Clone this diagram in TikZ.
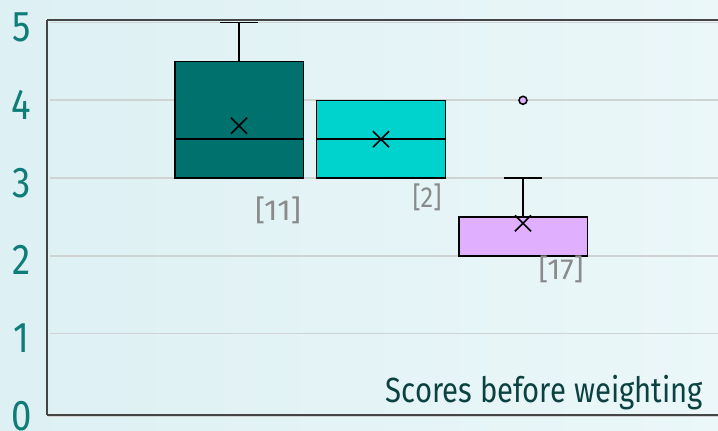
\documentclass[tikz,border=0pt]{standalone}
\usepackage{fontspec}
\setmainfont{Fira Sans}
\usepackage{graphicx}
\definecolor{bgl}{HTML}{DDF0F3}
\definecolor{bgr}{HTML}{EBF7F9}
\definecolor{axisnum}{HTML}{0E7C77}
\definecolor{titlec}{HTML}{0B4241}
\definecolor{boxa}{HTML}{00716D}
\definecolor{boxb}{HTML}{00D3CD}
\definecolor{boxc}{HTML}{E0B0FF}
\definecolor{gridc}{HTML}{CFD3D4}
\definecolor{framec}{HTML}{454545}
\definecolor{cntc}{HTML}{8A8A8A}
\tikzset{
  gridline/.style={draw=gridc, line width=1.6pt},
  frameline/.style={draw=framec, line width=1.5pt},
  boxst/.style={draw=black, line width=1.5pt},
  whisk/.style={draw=black, line width=1.5pt},
  ylab/.style={text=axisnum, inner sep=0pt, anchor=base, font=\fontsize{43}{43}\selectfont},
  cntlab/.style={text=cntc, inner sep=0pt, anchor=base, font=\fontsize{29}{29}\selectfont},
  meanx/.pic={\draw[line width=1.5pt] (-8pt,-8pt)--(8pt,8pt) (-8pt,8pt)--(8pt,-8pt);}
}
\begin{document}
\begin{tikzpicture}[x=1pt,y=1pt]
\useasboundingbox (0,0) rectangle (718,431);
\shade[left color=bgl, right color=bgr] (0,0) rectangle (718,431);
\begin{scope}[y=77.8pt, shift={(0pt,19.5pt)}]
  \foreach \v in {1,...,5} \draw[gridline] (50,\v) -- (718,\v);
  \foreach \v in {0,...,5} \node[ylab, yshift=-19pt] (ylab\v) at (21.5,\v) {\scalebox{0.85}[1]{\v}};
  % box 1
  \draw[whisk] (239,4.5) -- (239,5);
  \draw[whisk] (220,5) -- (257.7,5);
  \draw[boxst, fill=boxa] (175,3) rectangle (303.3,4.5);
  \draw[boxst] (175,3.5) -- (303.3,3.5);
  \pic at (239,3.673) {meanx};
  % box 2
  \draw[boxst, fill=boxb] (316.7,3) rectangle (445.7,4);
  \draw[boxst] (316.7,3.5) -- (445.7,3.5);
  \pic at (381,3.5) {meanx};
  % box 3
  \draw[whisk] (523,2.5) -- (523,3);
  \draw[whisk] (504,3) -- (542.3,3);
  \draw[boxst, fill=boxc] (459,2) rectangle (587.3,2.5);
  \pic at (523,2.419) {meanx};
  \draw[line width=1.5pt, fill=boxc] (523,4) circle (4pt);
\end{scope}
% frame
\draw[frameline] (47,16) -- (47,411);
\draw[frameline] (47,411) -- (718,411);
\draw[draw=gridc, line width=1.2pt] (48,14.5) -- (718,14.5);
\draw[frameline] (47,16) -- (718,16);
% counts
\node[cntlab] (n11) at (278,210.3) {\resizebox{46pt}{\height}{[11]}};
\node[cntlab] (n2) at (427,223.3) {\resizebox{29pt}{\height}{[2]}};
\node[cntlab] (n17) at (561,151) {\resizebox{45pt}{\height}{[17]}};
% title
\node[text=titlec, inner sep=0pt, anchor=base east, font=\fontsize{35}{35}\selectfont] (title) at (703,28.3) {\resizebox{317pt}{\height}{Scores before weighting}};
\end{tikzpicture}
\end{document}
